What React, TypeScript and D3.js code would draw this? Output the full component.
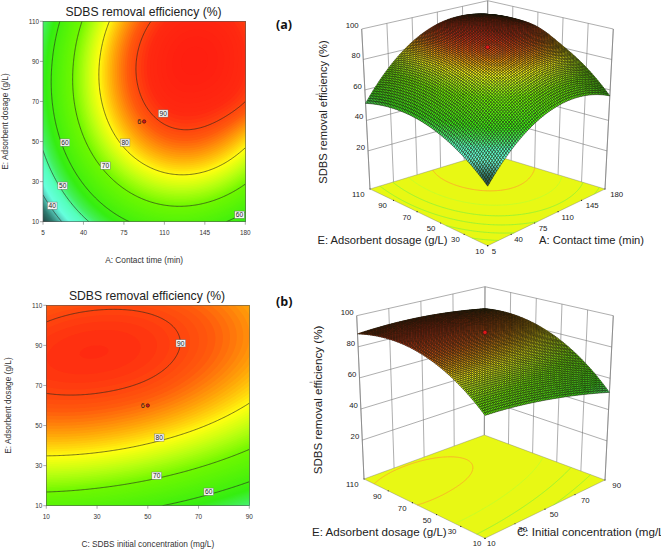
import React, { useMemo } from "react";
import * as d3 from "d3";

const title = "SDBS removal efficiency (%)";
const font = "'Liberation Sans', Arial, sans-serif";

// panel (a): response at the tick positions (rows = E, columns = A)
const contactTicks = [5, 40, 75, 110, 145, 180];
const dosageTicks = [10, 30, 50, 70, 90, 110];
const responseA = [
  [31.6, 48.2, 59.0, 63.9, 62.9, 56.1],
  [43.5, 60.7, 72.0, 77.5, 77.1, 70.8],
  [51.4, 69.2, 81.1, 87.1, 87.2, 81.5],
  [55.3, 73.7, 86.1, 92.7, 93.4, 90.0],
  [55.2, 74.1, 87.2, 94.3, 95.6, 92.0],
  [51.2, 70.6, 84.2, 91.9, 93.7, 90.5],
];

// panel (b): rows = E, columns = C
const concentrationTicks = [10, 30, 50, 70, 90];
const responseB = [
  [65.4, 64.0, 61.1, 56.8, 51.0],
  [77.6, 76.7, 74.4, 70.6, 65.3],
  [86.0, 85.6, 83.8, 80.6, 75.8],
  [90.6, 90.7, 89.5, 86.7, 82.5],
  [91.3, 92.0, 91.3, 89.0, 85.4],
  [88.3, 89.5, 89.3, 87.6, 84.4],
];

const zTicks = [20, 40, 60, 80, 100];
const contourLevels = [40, 50, 60, 70, 80, 90];

// contour label positions as x value, y value, level
const labelsA: [number, number, number][] = [
  [109, 64, 90], [76, 49.5, 80], [59, 38, 70], [24, 49.5, 60], [22, 28, 50], [13, 18, 40], [175, 13.5, 60],
];
const labelsB: [number, number, number][] = [
  [63, 91, 90], [54.5, 44, 80], [53.5, 25, 70], [74, 17, 60],
];

const colorStops: [number, string][] = [
  [30, "#203535"], [36, "#2f7a70"], [40, "#55c8b8"], [43, "#66ffdd"], [48, "#55ffbb"],
  [52, "#44f060"], [57, "#36ee11"], [70, "#70f800"], [75, "#b8ff10"], [79.5, "#ffff10"],
  [84, "#ffa808"], [88, "#ff5a0c"], [92, "#ff2a10"], [100, "#ff1010"],
];
const color = d3
  .scaleLinear<string>()
  .domain(colorStops.map((d) => d[0]))
  .range(colorStops.map((d) => d[1]))
  .clamp(true);

// Catmull-Rom through a row of read values
const crPoint = (p: number[], t: number) => {
  const n = p.length - 1;
  const s = Math.min(n - 1e-9, Math.max(0, t * n));
  const i = Math.floor(s);
  const f = s - i;
  const at = (k: number) =>
    k < 0 ? 3 * p[0] - 3 * p[1] + p[2] : k > n ? 3 * p[n] - 3 * p[n - 1] + p[n - 2] : p[k];
  const [a, b, c, d] = [at(i - 1), at(i), at(i + 1), at(i + 2)];
  return 0.5 * (2 * b + (c - a) * f + (2 * a - 5 * b + 4 * c - d) * f * f + (3 * b - a - 3 * c + d) * f * f * f);
};
const sampler = (rows: number[][]) => (u: number, v: number) => {
  const col = rows.map((r) => crPoint(r, u));
  return crPoint(col, v);
};

const fine = 160;
const fieldOf = (rows: number[][]) => {
  const f = sampler(rows);
  const out: number[] = [];
  for (let j = 0; j <= fine; j++) for (let i = 0; i <= fine; i++) out.push(f(i / fine, j / fine));
  return out;
};

type Map2 = (x: number, y: number) => [number, number];

// contour rings in grid space pushed through a mapping to the page
const ringPath = (geo: d3.ContourMultiPolygon, map: Map2) => {
  const line = d3.line().curve(d3.curveLinear);
  return geo.coordinates
    .flatMap((poly) => poly.map((ring) => line(ring.map(([x, y]) => map(x, y))) + "Z"))
    .join("");
};
// open lines only, dropping the stretches that run along the plot border
const linePath = (geo: d3.ContourMultiPolygon, map: Map2) => {
  const onEdge = (x: number, y: number) => x <= 0.01 || y <= 0.01 || x >= fine + 0.99 || y >= fine + 0.99;
  const line = d3.line().curve(d3.curveLinear);
  const parts: string[] = [];
  geo.coordinates.forEach((poly) =>
    poly.forEach((ring) => {
      let cur: [number, number][] = [];
      ring.forEach(([x, y]) => {
        if (onEdge(x, y)) {
          if (cur.length > 1) parts.push(line(cur) as string);
          cur = [];
        } else cur.push(map(x, y));
      });
      if (cur.length > 1) parts.push(line(cur) as string);
    })
  );
  return parts.join("");
};

const bandLevels = d3.range(28, 98, 0.5);
const contourGen = d3.contours().size([fine + 1, fine + 1]).smooth(true);

type ContourProps = {
  rows: number[][];
  xTicks: number[];
  box: { x0: number; x1: number; y0: number; y1: number };
  xTitle: string;
  labels: [number, number, number][];
  design: [number, number];
  titleX: number;
  titleY: number;
  xTitleY: number;
  yTitleX: number;
};

const ContourPanel = ({ rows, xTicks, box, xTitle, labels, design, titleX, titleY, xTitleY, yTitleX }: ContourProps) => {
  const xS = d3.scaleLinear().domain([xTicks[0], xTicks[xTicks.length - 1]]).range([box.x0, box.x1]);
  const yS = d3.scaleLinear().domain([10, 110]).range([box.y1, box.y0]);
  const field = useMemo(() => fieldOf(rows), [rows]);
  const map: Map2 = (i, j) => [
    box.x0 + ((i - 0.5) / fine) * (box.x1 - box.x0),
    box.y1 - ((j - 0.5) / fine) * (box.y1 - box.y0),
  ];
  const bands = useMemo(() => contourGen.thresholds(bandLevels)(field), [field]);
  const lines = useMemo(() => contourGen.thresholds(contourLevels)(field), [field]);
  const minV = d3.min(field) as number;
  const clipId = `clip-${box.x0}`;
  return (
    <g fontFamily={font}>
      <text x={titleX} y={titleY} textAnchor="middle" fontSize={12.2} fill="#222">{title}</text>
      <clipPath id={clipId}>
        <rect x={box.x0} y={box.y0} width={box.x1 - box.x0} height={box.y1 - box.y0} />
      </clipPath>
      <g clipPath={`url(#${clipId})`}>
        <rect x={box.x0} y={box.y0} width={box.x1 - box.x0} height={box.y1 - box.y0} fill={color(minV)} />
        {bands.map((b) =>
          b.coordinates.length ? <path key={b.value} d={ringPath(b, map)} fill={color(b.value)} fillRule="evenodd" /> : null
        )}
        {lines.map((b) =>
          b.coordinates.length ? (
            <path key={b.value} d={linePath(b, map)} fill="none" stroke="#2a2a20" strokeWidth={0.75} opacity={0.85} />
          ) : null
        )}
      </g>
      <rect x={box.x0} y={box.y0} width={box.x1 - box.x0} height={box.y1 - box.y0} fill="none" stroke="#555" strokeWidth={0.6} />
      {labels.map(([x, y, v]) => (
        <g key={`${x}-${v}`} transform={`translate(${xS(x)},${yS(y)})`}>
          <rect x={-4.8} y={-3.6} width={9.6} height={7.2} fill="#f4f4f4" stroke="#666" strokeWidth={0.4} />
          <text y={2.4} textAnchor="middle" fontSize={6.6} fill="#222">{v}</text>
        </g>
      ))}
      <circle cx={xS(design[0])} cy={yS(design[1])} r={1.7} fill="#d01818" stroke="#301010" strokeWidth={0.6} />
      <text x={xS(design[0]) - 5} y={yS(design[1]) + 2} fontSize={7.2} textAnchor="middle" fill="#222">6</text>
      {xTicks.map((t) => (
        <g key={t}>
          <line x1={xS(t)} x2={xS(t)} y1={box.y1} y2={box.y1 + 3} stroke="#555" strokeWidth={0.5} />
          <text x={xS(t)} y={box.y1 + 13.6} textAnchor="middle" fontSize={6.4} fill="#333">{t}</text>
        </g>
      ))}
      {dosageTicks.map((t) => (
        <g key={t}>
          <line x1={box.x0 - 3} x2={box.x0} y1={yS(t)} y2={yS(t)} stroke="#555" strokeWidth={0.5} />
          <text x={box.x0 - 4} y={yS(t) + 2.2} textAnchor="end" fontSize={6.4} fill="#333">{t}</text>
        </g>
      ))}
      <text x={(box.x0 + box.x1) / 2} y={xTitleY} textAnchor="middle" fontSize={8.3} fill="#333">{xTitle}</text>
      <text
        transform={`translate(${yTitleX},${(box.y0 + box.y1) / 2}) rotate(-90)`}
        textAnchor="middle"
        fontSize={8.3}
        fill="#333"
      >
        E: Adsorbent dosage (g/L)
      </text>
    </g>
  );
};

type Pt = [number, number];
type Corners = {
  front: [Pt, Pt];
  right: [Pt, Pt];
  left: [Pt, Pt];
  back: [Pt, Pt];
};

type SurfaceProps = {
  rows: number[][];
  xTicks: number[];
  corners: Corners;
  xTitle: string;
  xTitlePos: Pt;
  eTitlePos: Pt;
  zTitlePos: Pt;
  dashPos: Pt;
  design: [number, number, number];
  mesh: number;
  titleSize: number;
};

const zScale = d3.scaleLinear().domain([-5, 100]).range([0, 1]);

const SurfacePanel = ({ rows, xTicks, corners, xTitle, xTitlePos, eTitlePos, zTitlePos, dashPos, design, mesh, titleSize }: SurfaceProps) => {
  const uS = d3.scaleLinear().domain([xTicks[0], xTicks[xTicks.length - 1]]).range([0, 1]);
  const vS = d3.scaleLinear().domain([10, 110]).range([0, 1]);

  // bilinear in plan, linear in height, between the eight corners of the box
  const project = (u: number, v: number, w: number): Pt => {
    const mix = (k: 0 | 1, b: 0 | 1) =>
      (1 - u) * (1 - v) * corners.front[b][k] +
      u * (1 - v) * corners.right[b][k] +
      (1 - u) * v * corners.left[b][k] +
      u * v * corners.back[b][k];
    return [mix(0, 0) * (1 - w) + mix(0, 1) * w, mix(1, 0) * (1 - w) + mix(1, 1) * w];
  };

  const f = useMemo(() => sampler(rows), [rows]);
  const field = useMemo(() => fieldOf(rows), [rows]);
  const floor = useMemo(() => contourGen.thresholds(contourLevels)(field), [field]);
  const floorMap: Map2 = (i, j) => project((i - 0.5) / fine, (j - 0.5) / fine, 0);

  const quad = (pts: Pt[]) => (d3.line()(pts) as string) + "Z";

  const cells = useMemo(() => {
    const out: { d: string; fill: string }[] = [];
    // back corner first so nearer cells paint over farther ones
    for (let j = mesh - 1; j >= 0; j--) {
      for (let i = mesh - 1; i >= 0; i--) {
        const u0 = i / mesh;
        const u1 = (i + 1) / mesh;
        const v0 = j / mesh;
        const v1 = (j + 1) / mesh;
        const z00 = f(u0, v0);
        const z10 = f(u1, v0);
        const z11 = f(u1, v1);
        const z01 = f(u0, v1);
        out.push({
          d: quad([
            project(u0, v0, zScale(z00)),
            project(u1, v0, zScale(z10)),
            project(u1, v1, zScale(z11)),
            project(u0, v1, zScale(z01)),
          ]),
          fill: color((z00 + z10 + z11 + z01) / 4),
        });
      }
    }
    return out;
  }, [f, mesh]);

  const wallStroke = "#777";
  const seg = (a: Pt, b: Pt, key: string, stroke = wallStroke, sw = 0.6) => (
    <line key={key} x1={a[0]} y1={a[1]} x2={b[0]} y2={b[1]} stroke={stroke} strokeWidth={sw} />
  );
  const dp = project(uS(design[0]), vS(design[1]), zScale(design[2]));

  return (
    <g fontFamily={font}>
      {/* walls behind the surface */}
      {xTicks.map((t) => seg(project(uS(t), 1, 0), project(uS(t), 1, 1), `wa${t}`))}
      {dosageTicks.map((t) => seg(project(1, vS(t), 0), project(1, vS(t), 1), `wb${t}`))}
      {seg(project(0, 1, 0), project(0, 1, 1), "left")}
      {seg(project(1, 0, 0), project(1, 0, 1), "right")}
      {zTicks.map((t) => (
        <g key={t}>
          {seg(project(0, 1, zScale(t)), project(1, 1, zScale(t)), `za${t}`)}
          {seg(project(1, 1, zScale(t)), project(1, 0, zScale(t)), `zb${t}`)}
          <text
            x={project(0, 1, zScale(t))[0] - 3}
            y={project(0, 1, zScale(t))[1] - 1}
            textAnchor="end"
            fontSize={7.8}
            fill="#222"
          >
            {t}
          </text>
        </g>
      ))}
      {/* floor with the projected contours */}
      <path
        d={quad([project(0, 0, 0), project(1, 0, 0), project(1, 1, 0), project(0, 1, 0)])}
        fill="#e8f814"
        stroke="#777"
        strokeWidth={0.4}
      />
      {floor.map((b) =>
        b.coordinates.length ? (
          <path
            key={b.value}
            d={linePath(b, floorMap)}
            fill="none"
            stroke={b.value >= 90 ? "#ff9a30" : b.value >= 80 ? "#b8ff30" : "#7cf03c"}
            strokeWidth={0.7}
          />
        ) : null
      )}
      {/* the mesh */}
      <g stroke="#141408" strokeWidth={0.5} strokeLinejoin="round">
        {cells.map((c, i) => (
          <path key={i} d={c.d} fill={c.fill} />
        ))}
      </g>
      <circle cx={dp[0]} cy={dp[1]} r={2.1} fill="#e01818" stroke="#401010" strokeWidth={0.6} />
      {/* floor ticks and labels */}
      {xTicks.map((t) => {
        const p = project(uS(t), 0, 0);
        return (
          <g key={t}>
            <circle cx={p[0]} cy={p[1]} r={0.6} fill="#222" />
            <text x={p[0] + 6.3 + 5.4 * uS(t)} y={p[1] + 8} textAnchor="middle" fontSize={7.8} fill="#222">{t}</text>
          </g>
        );
      })}
      {dosageTicks.map((t) => {
        const p = project(0, vS(t), 0);
        return (
          <g key={t}>
            <circle cx={p[0]} cy={p[1]} r={0.6} fill="#222" />
            <text x={p[0] - 8 - 3.7 * vS(t)} y={p[1] + 8} textAnchor="middle" fontSize={7.8} fill="#222">{t}</text>
          </g>
        );
      })}
      <text x={eTitlePos[0]} y={eTitlePos[1]} fontSize={titleSize} fill="#222">E: Adsorbent dosage (g/L)</text>
      <text x={xTitlePos[0]} y={xTitlePos[1]} fontSize={titleSize} fill="#222">{xTitle}</text>
      <text
        transform={`translate(${zTitlePos[0]},${zTitlePos[1]}) rotate(-90)`}
        textAnchor="middle"
        fontSize={titleSize}
        fill="#222"
      >
        {title}
      </text>
      {seg(dashPos, [dashPos[0] + 3, dashPos[1]], "dash", "#555", 0.6)}
    </g>
  );
};

export default function App() {
  return (
    <svg width={661} height={550} viewBox="0 0 661 550" style={{ position: "absolute", left: 0, top: 0, background: "#fff" }}>
      <ContourPanel
        rows={responseA}
        xTicks={contactTicks}
        box={{ x0: 43, x1: 245.3, y0: 21.3, y1: 221.7 }}
        xTitle="A: Contact time (min)"
        labels={labelsA}
        design={[92.5, 60]}
        titleX={143.5}
        titleY={16}
        xTitleY={263}
        yTitleX={8}
      />
      <ContourPanel
        rows={responseB}
        xTicks={concentrationTicks}
        box={{ x0: 46.3, x1: 249.3, y0: 305.3, y1: 505.7 }}
        xTitle="C: SDBS initial concentration (mg/L)"
        labels={labelsB}
        design={[50, 60]}
        titleX={147}
        titleY={300}
        xTitleY={547}
        yTitleX={11}
      />
      <SurfacePanel
        rows={responseA}
        xTicks={contactTicks}
        corners={{
          front: [[487.7, 245.7], [487.7, 75]],
          right: [[605, 189], [613.3, 29]],
          left: [[370, 189], [361.7, 29]],
          back: [[487.7, 153.3], [487.7, 0.7]],
        }}
        xTitle="A: Contact time (min)"
        xTitlePos={[539, 244]}
        eTitlePos={[317.5, 244]}
        zTitlePos={[327, 112]}
        dashPos={[315.5, 94.3]}
        design={[92.5, 60, 91]}
        mesh={80}
        titleSize={11.2}
      />
      <SurfacePanel
        rows={responseB}
        xTicks={concentrationTicks}
        corners={{
          front: [[485, 538.3], [485, 355]],
          right: [[605, 480], [613.3, 315.7]],
          left: [[364, 479], [356.7, 315.7]],
          back: [[484.3, 435], [485, 286.7]],
        }}
        xTitle="C: Initial concentration (mg/L)"
        xTitlePos={[517, 536]}
        eTitlePos={[312, 536]}
        zTitlePos={[322, 400]}
        dashPos={[309.5, 382.3]}
        design={[50, 60, 91]}
        mesh={80}
        titleSize={11.6}
      />
      <text x={276} y={29} fontFamily="'Open Sans', sans-serif" fontWeight={700} fontSize={12.5} fill="#111">(a)</text>
      <text x={276} y={305.5} fontFamily="'Open Sans', sans-serif" fontWeight={700} fontSize={12.5} fill="#111">(b)</text>
    </svg>
  );
}
